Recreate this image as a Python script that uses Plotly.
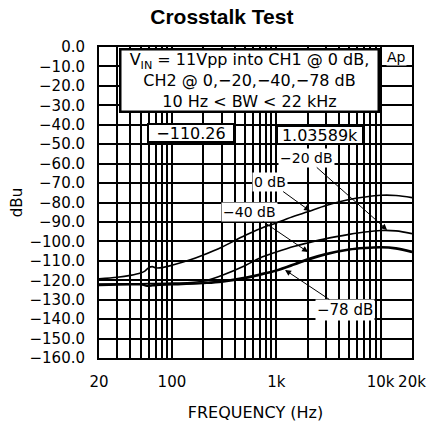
import math
import plotly.graph_objects as go

# ---- data ----
freq_0db = [20, 30, 40, 50, 55, 60, 65, 70, 80, 100, 150, 200, 300, 500, 700, 1000, 1500, 2000, 3000, 5000, 7000, 10000, 14000, 20000]
dbu_0db = [-119.3, -118.5, -117.5, -116.3, -115.3, -113.5, -113.0, -113.6, -113.5, -112.3, -109.5, -107.0, -103.0, -97.0, -93.5, -90.5, -87.0, -84.8, -81.5, -78.5, -77.2, -76.3, -76.4, -77.5]

freq_20db = [20, 50, 100, 200, 300, 500, 700, 1000, 1500, 2000, 3000, 5000, 7000, 10000, 14000, 20000]
dbu_20db = [-122.0, -121.8, -121.5, -120.5, -117.5, -112.5, -108.5, -105.5, -102.5, -100.8, -98.6, -96.4, -95.2, -94.4, -94.6, -96.0]

freq_40db = [20, 50, 60, 70, 100, 200, 300, 500, 700, 1000, 1500, 2000, 3000, 5000, 7000, 10000, 14000, 20000]
dbu_40db = [-122.3, -122.0, -122.8, -122.3, -122.0, -121.3, -120.5, -118.5, -116.8, -114.8, -111.5, -109.0, -106.3, -104.0, -103.2, -102.8, -103.3, -105.2]

freq_78db = [20, 50, 60, 70, 100, 200, 300, 500, 700, 1000, 1500, 2000, 3000, 5000, 7000, 10000, 14000, 20000]
dbu_78db = [-122.6, -122.3, -123.0, -122.6, -122.3, -121.6, -120.9, -119.0, -117.3, -115.2, -112.0, -109.6, -106.8, -104.4, -103.6, -103.2, -103.8, -105.7]

x_tick_vals = [20, 100, 1000, 10000, 20000]
x_tick_text = ["20", "100", "1k", "10k", "20k"]
minor_grid_freqs = [30, 40, 50, 60, 70, 80, 90, 200, 300, 400, 500, 600, 700, 800, 900,
                    2000, 3000, 4000, 5000, 6000, 7000, 8000, 9000]
y_ticks = list(range(-160, 1, 10))
y_labels = ["0.0" if v == 0 else "\u2212%d.0" % (-v) for v in y_ticks]

FONT = "DejaVu Sans"

fig = go.Figure()
for fx, fy, w in [(freq_0db, dbu_0db, 1.6), (freq_20db, dbu_20db, 1.6),
                  (freq_40db, dbu_40db, 1.8), (freq_78db, dbu_78db, 1.8)]:
    fig.add_trace(go.Scatter(x=fx, y=fy, mode="lines", line=dict(color="black", width=w, shape="spline"),
                             showlegend=False, hoverinfo="skip"))

fig.update_layout(
    width=441, height=434,
    margin=dict(l=99, r=29, t=47, b=76, autoexpand=False),
    paper_bgcolor="white", plot_bgcolor="white",
    font=dict(family=FONT, size=14, color="black"),
    title=dict(text="<b>Crosstalk Test</b>", x=0.503, xanchor="center", y=0.961, yanchor="middle",
               font=dict(family="Liberation Sans", size=21, color="black")),
)
fig.update_xaxes(
    type="log", range=[math.log10(20), math.log10(20000)],
    tickmode="array", tickvals=x_tick_vals, ticktext=x_tick_text,
    showgrid=True, gridcolor="black", gridwidth=1.5,
    minor=dict(tickmode="array", tickvals=minor_grid_freqs, showgrid=True,
               gridcolor="black", gridwidth=1.5, ticks=""),
    showline=True, mirror=True, linecolor="black", linewidth=2,
    ticks="", ticklabelstandoff=9, tickfont=dict(size=15),
    title=dict(text="FREQUENCY (Hz)", font=dict(size=16), standoff=17),
    zeroline=False, automargin=False,
)
fig.update_yaxes(
    range=[-160, 0], tickmode="array", tickvals=y_ticks, ticktext=y_labels,
    showgrid=True, gridcolor="black", gridwidth=1.5,
    showline=True, mirror=True, linecolor="black", linewidth=2,
    ticks="", ticklabelstandoff=9, tickfont=dict(size=15),
    title=dict(text="dBu", font=dict(size=15), standoff=3),
    zeroline=False, automargin=False,
)

# info boxes
fig.add_annotation(xref="paper", yref="paper", x=0.064, y=0.997, xanchor="left", yanchor="top",
                   text="V<sub>IN</sub> = 11Vpp into CH1 @ 0 dB,<br>CH2 @ 0,\u221220,\u221240,\u221278 dB<br>10 Hz < BW < 22 kHz",
                   showarrow=False, align="center", width=254, height=58, bgcolor="white",
                   bordercolor="black", borderwidth=2.5, borderpad=1, font=dict(size=16))
fig.add_annotation(xref="paper", yref="paper", x=0.153, y=0.755, xanchor="left", yanchor="top",
                   text="\u2212110.26", showarrow=False, width=84, height=16, bgcolor="white",
                   bordercolor="black", borderwidth=2, borderpad=0, font=dict(size=16))
fig.add_annotation(xref="paper", yref="paper", x=0.565, y=0.749, xanchor="left", yanchor="top",
                   text="1.03589k", showarrow=False, width=84, height=16, bgcolor="white",
                   bordercolor="black", borderwidth=2, borderpad=0, font=dict(size=16))
fig.add_annotation(xref="paper", yref="paper", x=0.949, y=0.968, xanchor="center", yanchor="middle",
                   text="Ap", showarrow=False, bgcolor="white", borderpad=0, font=dict(size=14))

# curve labels with arrows
labels = [
    ("\u221220 dB", 11540, -94.1, -81, -72),
    ("0 dB", 2108, -84.4, -40, -29),
    ("\u221240 dB", 2018, -105.5, -59, -40),
    ("\u221278 dB", 1214, -114.7, 60, 40),
]
for txt, fx, fy, ax, ay in labels:
    fig.add_annotation(x=math.log10(fx), y=fy, xref="x", yref="y", text=txt, showarrow=True,
                       ax=ax, ay=ay, arrowhead=2, arrowsize=1.2, arrowwidth=1, arrowcolor="black",
                       bgcolor="white", borderpad=1, font=dict(size=15 if "78" in txt else 14))

fig.write_html("out.html", config={"displayModeBar": False},
               post_script="document.body.style.margin='0';document.body.style.overflow='hidden';")
